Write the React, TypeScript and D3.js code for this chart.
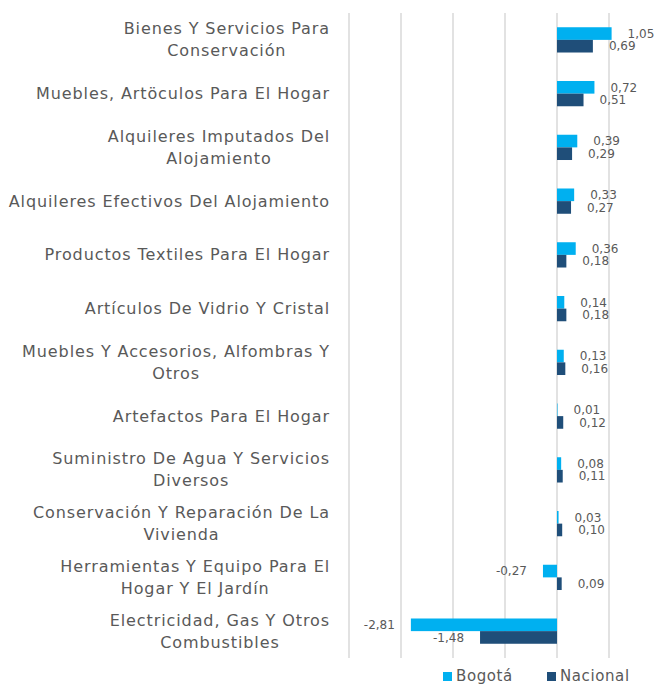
import React, { useEffect, useRef } from "react";
import * as d3 from "d3";

const categories: string[][] = [
  ["Bienes Y Servicios Para", "Conservación"],
  ["Muebles, Artöculos Para El Hogar"],
  ["Alquileres Imputados Del", "Alojamiento"],
  ["Alquileres Efectivos Del Alojamiento"],
  ["Productos Textiles Para El Hogar"],
  ["Artículos De Vidrio Y Cristal"],
  ["Muebles Y Accesorios, Alfombras Y", "Otros"],
  ["Artefactos Para El Hogar"],
  ["Suministro De Agua Y Servicios", "Diversos"],
  ["Conservación Y Reparación De La", "Vivienda"],
  ["Herramientas Y Equipo Para El", "Hogar Y El Jardín"],
  ["Electricidad, Gas Y Otros", "Combustibles"],
];
const bogota = [1.05, 0.72, 0.39, 0.33, 0.36, 0.14, 0.13, 0.01, 0.08, 0.03, -0.27, -2.81];
const nacional = [0.69, 0.51, 0.29, 0.27, 0.18, 0.18, 0.16, 0.12, 0.11, 0.1, 0.09, -1.48];
const seriesNames = ["Bogotá", "Nacional"];
const seriesColors = ["#00B0F0", "#1F4E79"];
const xTicks = [-4, -3, -2, -1, 0, 1];

const W = 654;
const H = 685;
const FONT = "'DejaVu Sans', sans-serif";
const TEXT = "#595959";

export default function App() {
  const ref = useRef<SVGSVGElement>(null);

  useEffect(() => {
    const svg = d3.select(ref.current);
    svg.selectAll("*").remove();

    const x = d3.scaleLinear().domain([-4, 1]).range([349, 609]);
    const idx = categories.map((_, i) => i);
    const y = d3.scaleBand<number>().domain(idx).range([13, 658]).padding(0);
    const bw = y.bandwidth();
    const ys = d3
      .scaleBand<string>()
      .domain(seriesNames)
      .range([bw * 0.265, bw * 0.735])
      .padding(0);

    // gridlines
    svg
      .append("g")
      .selectAll("line")
      .data(xTicks)
      .join("line")
      .attr("x1", (d) => x(d))
      .attr("x2", (d) => x(d))
      .attr("y1", 13)
      .attr("y2", 658)
      .attr("stroke", "#D9D9D9")
      .attr("stroke-width", 1.5);

    const series = [bogota, nacional];
    const fmt = (v: number) => v.toFixed(2).replace(".", ",");

    series.forEach((vals, si) => {
      const name = seriesNames[si];
      const g = svg.append("g");
      g.selectAll("rect")
        .data(vals)
        .join("rect")
        .attr("x", (d) => Math.min(x(d), x(0)))
        .attr("width", (d) => Math.abs(x(d) - x(0)))
        .attr("y", (_, i) => (y(i) as number) + (ys(name) as number))
        .attr("height", ys.bandwidth())
        .attr("fill", seriesColors[si]);
      g.selectAll("text")
        .data(vals)
        .join("text")
        .attr("x", (d) => (d >= 0 ? x(d) + 16 : x(d) - 16))
        .attr("y", (_, i) => (y(i) as number) + (ys(name) as number) + ys.bandwidth() / 2)
        .attr("dy", "0.35em")
        .attr("text-anchor", (d) => (d >= 0 ? "start" : "end"))
        .attr("font-family", FONT)
        .attr("font-size", 12)
        .attr("fill", TEXT)
        .text((d) => fmt(d));
    });

    // category labels
    const labelRight = 330;
    const lineGap = 22;
    const lg = svg.append("g");
    categories.forEach((lines, i) => {
      const cy = (y(i) as number) + bw / 2;
      const grp = lg.append("g");
      const texts = lines.map((ln, li) =>
        grp
          .append("text")
          .attr("y", cy + (li - (lines.length - 1) / 2) * lineGap)
          .attr("dy", "0.35em")
          .attr("text-anchor", "middle")
          .attr("font-family", FONT)
          .attr("font-size", 16)
          .attr("letter-spacing", 0.9)
          .attr("fill", TEXT)
          .text(ln)
      );
      const maxW = d3.max(texts, (t) => (t.node() as SVGTextElement).getComputedTextLength()) || 0;
      texts.forEach((t) => t.attr("x", labelRight - maxW / 2));
    });

    // legend
    const leg = svg.append("g");
    const legItems = [
      { sx: 443, tx: 456 },
      { sx: 547, tx: 560 },
    ];
    seriesNames.forEach((n, i) => {
      leg
        .append("rect")
        .attr("x", legItems[i].sx)
        .attr("y", 672)
        .attr("width", 9)
        .attr("height", 9)
        .attr("fill", seriesColors[i]);
      leg
        .append("text")
        .attr("x", legItems[i].tx)
        .attr("y", 681)
        .attr("font-family", FONT)
        .attr("font-size", 15)
        .attr("letter-spacing", 0.6)
        .attr("fill", TEXT)
        .text(n);
    });
  }, []);

  return (
    <svg
      ref={ref}
      width={W}
      height={H}
      style={{ position: "absolute", left: 0, top: 0, background: "#fff" }}
    />
  );
}
